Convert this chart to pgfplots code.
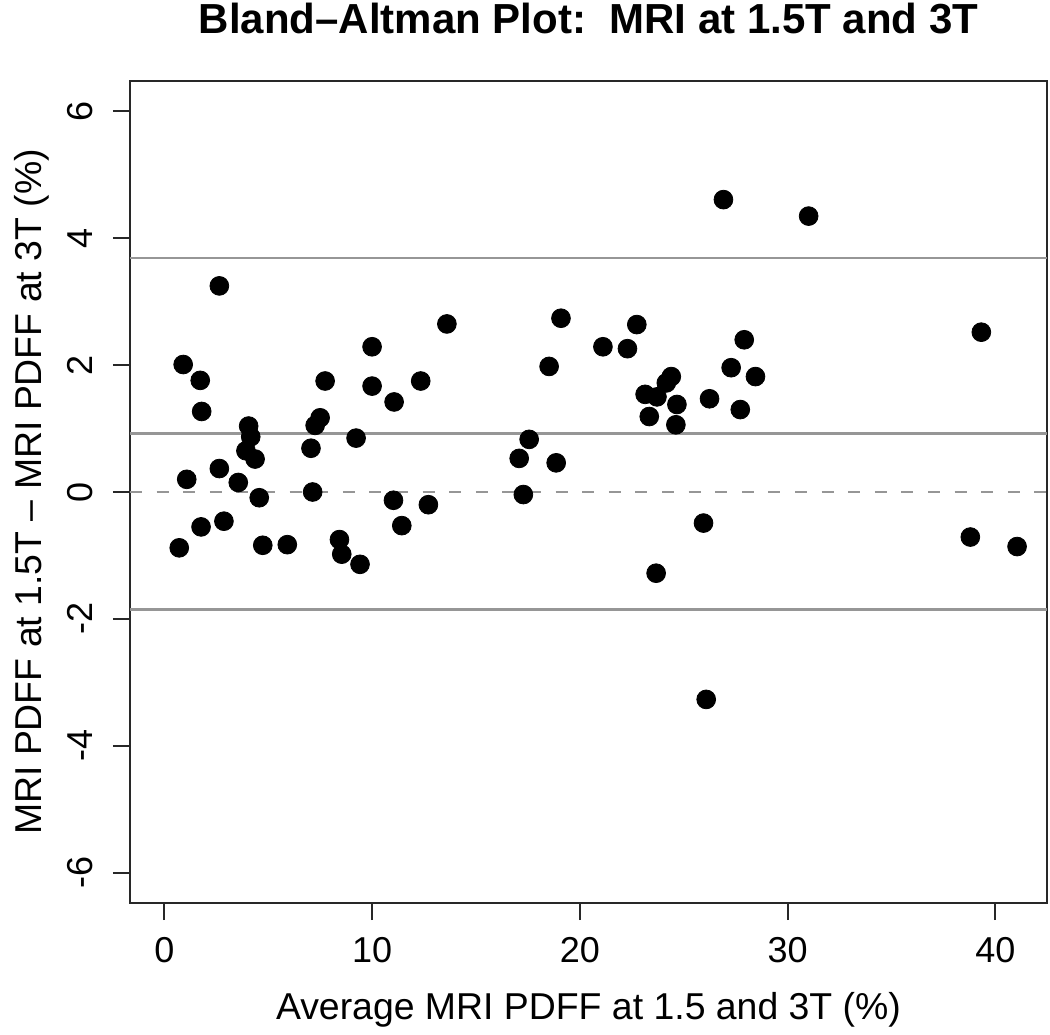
\documentclass[border=0pt]{standalone}
\usepackage{fontspec}
\setmainfont{Liberation Sans}
\usepackage{pgfplots}
\pgfplotsset{compat=1.18}
\definecolor{refgray}{RGB}{150,150,150}
\definecolor{boxgray}{RGB}{40,40,40}

\pgfplotstableread{
x y
0.72 -0.88
0.91 2.01
1.08 0.20
1.73 1.76
1.80 1.27
1.77 -0.55
2.65 3.25
2.65 0.37
2.87 -0.46
3.56 0.15
3.93 0.65
4.06 1.04
4.16 0.87
4.37 0.52
4.57 -0.09
4.74 -0.84
5.92 -0.83
7.06 0.69
7.14 0.00
7.26 1.05
7.50 1.17
7.74 1.75
8.43 -0.75
8.54 -0.98
9.23 0.85
9.42 -1.14
10.00 2.29
10.00 1.67
11.06 1.42
11.03 -0.13
11.43 -0.53
12.34 1.75
12.71 -0.20
13.60 2.65
17.08 0.53
17.28 -0.04
17.56 0.83
18.52 1.98
18.86 0.46
19.09 2.74
21.11 2.29
22.29 2.26
22.74 2.64
23.14 1.54
23.34 1.19
23.71 1.50
23.67 -1.28
24.16 1.72
24.40 1.82
24.67 1.38
24.62 1.06
25.95 -0.49
26.08 -3.27
26.24 1.47
26.91 4.61
27.28 1.96
27.72 1.30
27.91 2.40
28.45 1.82
31.01 4.35
38.79 -0.71
39.32 2.52
41.04 -0.86
}\pdfftable

\begin{document}
\begin{tikzpicture}
\begin{axis}[
  scale only axis,
  width=458.5pt, height=411pt,
  xmin=-1.65, xmax=42.48, ymin=-6.48, ymax=6.48,
  xtick={0,10,20,30,40},
  ytick={-6,-4,-2,0,2,4,6},
  tick align=outside,
  xtick pos=lower, ytick pos=left,
  major tick length=8.5pt,
  axis line style={line width=1pt, boxgray},
  every tick/.style={line width=1pt, boxgray},
  tick label style={font=\fontsize{18}{21}\selectfont},
  /pgf/number format/assume math mode=true,
  xticklabel style={inner sep=8.5pt},
  yticklabel style={rotate=90, anchor=south, inner sep=10pt},
  label style={font=\fontsize{18.7}{22}\selectfont},
  xlabel={Average MRI PDFF at 1.5 and 3T (\%)},
  ylabel={MRI PDFF at 1.5T – MRI PDFF at 3T (\%)},
  xlabel style={at={(axis description cs:0.5,-0.1423)}, anchor=base},
  ylabel style={at={(axis description cs:-0.096,0.5)}, anchor=base},
  title={Bland–Altman Plot:\ \ MRI at 1.5T and 3T},
  title style={font=\bfseries\fontsize{21}{25}\selectfont,
    at={(axis description cs:0.5,1.0437)}, anchor=base},
]
% limits of agreement and mean difference
\addplot[refgray, line width=1.3pt] coordinates {(-1.65,3.69) (42.48,3.69)};
\addplot[refgray, line width=1.3pt] coordinates {(-1.65,0.918) (42.48,0.918)};
\addplot[refgray, line width=1.3pt] coordinates {(-1.65,-1.85) (42.48,-1.85)};
\addplot[refgray, line width=1.3pt, dash pattern=on 6pt off 7.3pt] coordinates {(-1.65,0) (42.48,0)};
% observations
\addplot[only marks, mark=*, mark size=4.7pt, black] table[x=x, y=y] {\pdfftable};
\end{axis}
\pgfresetboundingbox
\path[use as bounding box] (-65pt,-65.5pt) rectangle (460pt,451.5pt);
\end{tikzpicture}
\end{document}
